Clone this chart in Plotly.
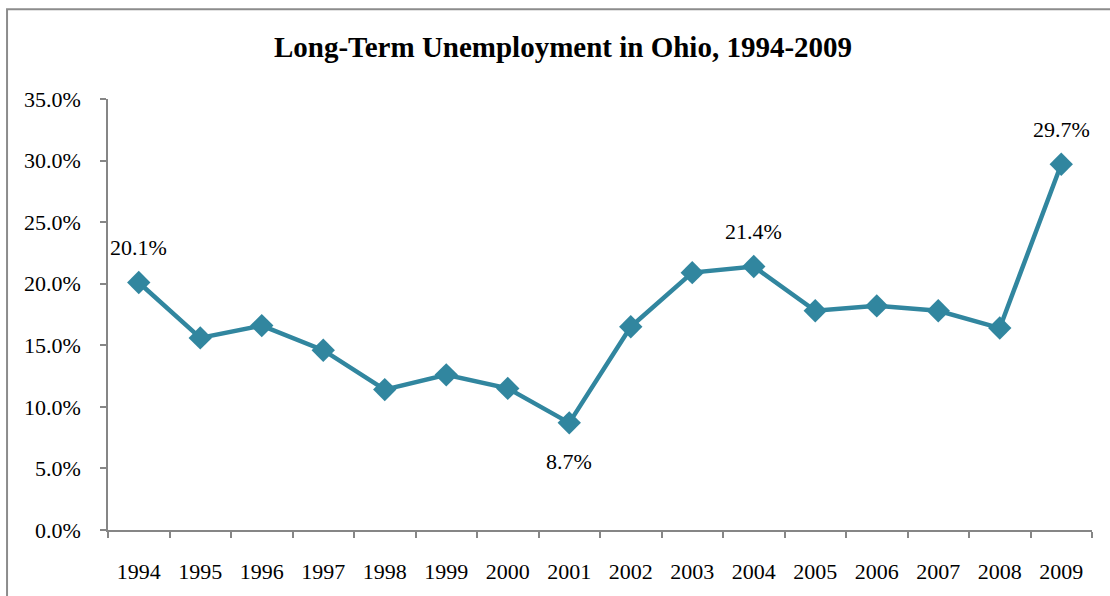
import plotly.graph_objects as go

# Long-term unemployment share (% of unemployed), Ohio
years = ["1994", "1995", "1996", "1997", "1998", "1999", "2000", "2001",
         "2002", "2003", "2004", "2005", "2006", "2007", "2008", "2009"]
share = [20.1, 15.6, 16.6, 14.6, 11.4, 12.6, 11.5, 8.7,
         16.5, 20.9, 21.4, 17.8, 18.2, 17.8, 16.4, 29.7]

# years that carry a value label, and which side of the point it sits on
labelled_years = ["1994", "2001", "2004", "2009"]
label_side = {"1994": "above", "2001": "below", "2004": "above", "2009": "above"}

LINE = "#31869F"
AXIS = "#868686"
FONT = "Liberation Serif, Times New Roman, serif"

pos = list(range(len(years)))            # category slots
bounds = [i - 0.5 for i in range(len(years) + 1)]  # slot edges for tick marks

fig = go.Figure()
fig.add_trace(go.Scatter(
    x=pos, y=share, mode="lines+markers",
    line=dict(color=LINE, width=4.5),
    marker=dict(symbol="diamond", size=18, color=LINE),
    text=years, hovertemplate="%{text}: %{y:.1f}%<extra></extra>",
    showlegend=False,
))

for yr in labelled_years:
    i = years.index(yr)
    v = share[i]
    up = label_side[yr] == "above"
    fig.add_annotation(
        x=i, y=v, xref="x", yref="y", text=f"{v:.1f}%", showarrow=False,
        yshift=35 if up else -39, font=dict(family=FONT, size=22, color="black"),
    )

# chart-area frame
fig.add_shape(type="rect", xref="paper", yref="paper",
              x0=-0.1026, x1=1.2, y0=-0.4, y1=1.208,
              line=dict(color="#8c8c8c", width=2), fillcolor="rgba(0,0,0,0)")

fig.update_layout(
    width=1110, height=596,
    margin=dict(l=108, r=18, t=99, b=64),
    paper_bgcolor="white", plot_bgcolor="white",
    font=dict(family=FONT, color="black"),
    title=dict(text="<b>Long-Term Unemployment in Ohio, 1994-2009</b>",
               x=563 / 1110, xanchor="center", xref="container",
               y=1 - 47 / 596, yanchor="middle", yref="container",
               font=dict(family=FONT, size=29, color="black")),
    xaxis=dict(range=[-0.5, len(years) - 0.5],
               tickmode="array", tickvals=pos, ticktext=years, tickangle=0,
               ticks="", showline=True, linecolor=AXIS, linewidth=1.5,
               showgrid=False, zeroline=False,
               minor=dict(tickmode="array", tickvals=bounds, ticks="outside",
                          ticklen=6, tickcolor=AXIS, tickwidth=1.5, showgrid=False),
               tickfont=dict(family=FONT, size=22, color="black"),
               ticklabelstandoff=21),
    yaxis=dict(range=[0, 35], dtick=5, tick0=0, tickformat=".1f", ticksuffix="%",
               ticks="outside", ticklen=6, tickcolor=AXIS, tickwidth=1.5,
               showline=True, linecolor=AXIS, linewidth=1.5,
               showgrid=False, zeroline=False,
               tickfont=dict(family=FONT, size=22, color="black"),
               ticklabelstandoff=15),
)

fig.write_html("out.html")
